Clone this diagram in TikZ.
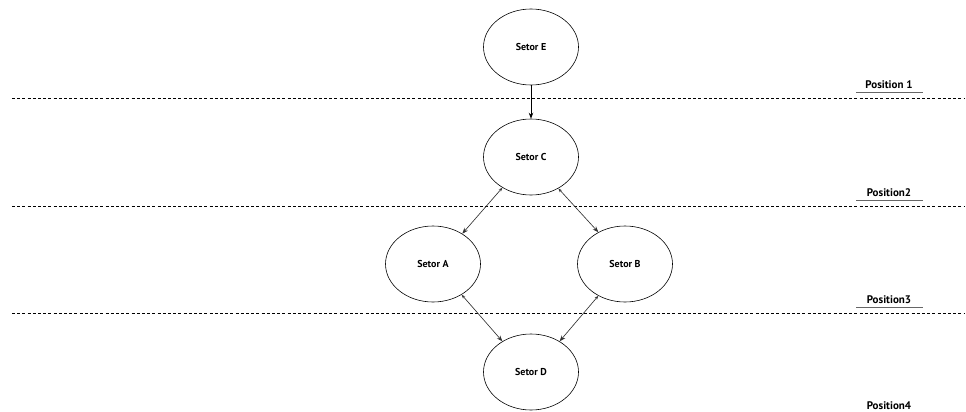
\documentclass[tikz,border=0pt]{standalone}
\usepackage{fontspec}
\setmainfont{PT Sans}
\usetikzlibrary{shapes.geometric,arrows.meta}
\begin{document}
\begin{tikzpicture}[x=1pt,y=-1pt,
  sector/.style={ellipse,draw=black,line width=0.6pt,minimum width=95pt,minimum height=76pt,inner sep=0pt,font=\bfseries\fontsize{10}{11}\selectfont},
  level/.style={draw=black,dashed,dash pattern=on 3pt off 2.2pt,line width=0.7pt},
  poslabel/.style={font=\bfseries\fontsize{11}{12}\selectfont,inner sep=1pt},
  uline/.style={draw=black!60,line width=1.2pt},
  link/.style={draw=black!80,line width=0.65pt,{Stealth[length=4pt,width=3pt]}-{Stealth[length=6pt,width=4.5pt]}},
  down/.style={draw=black,line width=0.7pt,-{Stealth[length=6pt,width=4.5pt]}}]
\useasboundingbox (0,0) rectangle (966,412);

% sectors
\node[sector] (E) at (531,47) {Setor E};
\node[sector] (C) at (531,157) {Setor C};
\node[sector] (A) at (433,264) {Setor A};
\node[sector] (B) at (625,264) {Setor B};
\node[sector] (D) at (531,372) {Setor D};

% level separators
\coordinate (l1a) at (12,98);  \coordinate (l1b) at (965,98);
\coordinate (l2a) at (12,206); \coordinate (l2b) at (965,206);
\coordinate (l3a) at (12,313); \coordinate (l3b) at (965,313);
\draw[level] (l1a) -- (l1b);
\draw[level] (l2a) -- (l2b);
\draw[level] (l3a) -- (l3b);

% position labels
\node[poslabel] (p1) at (889,85) {Position 1};
\node[poslabel] (p2) at (889,193) {Position2};
\node[poslabel] (p3) at (889,300) {Position3};
\node[poslabel] (p4) at (889,406) {Position4};
\coordinate (u1a) at (856,92.5);  \coordinate (u1b) at (923,92.5);
\coordinate (u2a) at (856,200.5); \coordinate (u2b) at (923,200.5);
\coordinate (u3a) at (856,307.5); \coordinate (u3b) at (923,307.5);
\draw[uline] (u1a) -- (u1b);
\draw[uline] (u2a) -- (u2b);
\draw[uline] (u3a) -- (u3b);

% connectors
\draw[down] (E) -- (C);
\draw[link] (C.227) -- (A.46);
\draw[link] (C.311) -- (B.130);
\draw[link] (A.313) -- (D.133);
\draw[link] (B.230) -- (D.47);
\end{tikzpicture}
\end{document}
